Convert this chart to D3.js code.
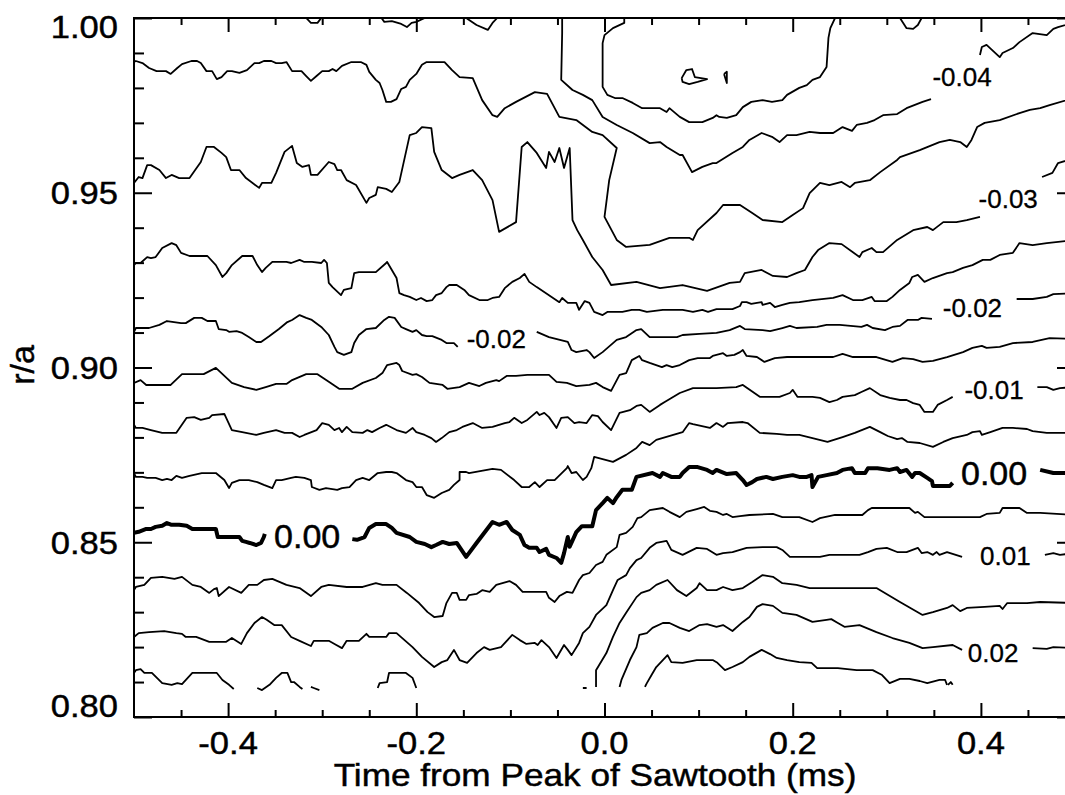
<!DOCTYPE html>
<html>
<head>
<meta charset="utf-8">
<script src="https://cdn.jsdelivr.net/npm/d3@7/dist/d3.min.js"></script>
<style>
  html, body { margin: 0; padding: 0; background: #fff; }
  svg { display: block; }
  text { font-family: "Liberation Sans", Arial, Helvetica, sans-serif; fill: #000; }
  .heavy { stroke: #000; stroke-width: 0.45px; }
</style>
</head>
<body>
<svg id="chart" width="1065" height="795"></svg>
<script>
// ---- axis ticks and labels ----
const tickMajorT = [-0.4, -0.2, 0.0, 0.2, 0.4];
const tickLabelT = ["-0.4", "-0.2", "0.0", "0.2", "0.4"];
const tickMinorT = [-0.45, -0.35, -0.3, -0.25, -0.15, -0.1, -0.05, 0.05, 0.1, 0.15, 0.25, 0.3, 0.35, 0.45];
const tickMajorR = [0.80, 0.85, 0.90, 0.95, 1.00];
const tickLabelR = ["0.80", "0.85", "0.90", "0.95", "1.00"];
const tickMinorR = [0.81, 0.82, 0.83, 0.84, 0.86, 0.87, 0.88, 0.89, 0.91, 0.92, 0.93, 0.94, 0.96, 0.97, 0.98, 0.99];

// ---- contour lines: [time (ms), r/a]; null marks a break in the line ----
const lvlM050a = [[0.082,0.9828],[0.087,0.9851],[0.093,0.9854],[0.096,0.9831],[0.109,0.9825],[0.099,0.9817],[0.090,0.9811],[0.083,0.9817],[0.082,0.9828]];
const lvlM050b = [[0.127,0.9840],[0.130,0.9846],[0.130,0.9814],[0.127,0.9840]];

const lvlM045 = [[0.021,1.0],[0.021,0.9986],[0.009,0.9971],[0.000,0.9951],[-0.002,0.9928],[-0.002,0.9803],[0.003,0.9780],[0.011,0.9771],[0.019,0.9771],[0.030,0.9757],[0.040,0.9742],[0.059,0.9742],[0.066,0.9731],[0.069,0.9742],[0.080,0.9717],[0.090,0.9702],[0.104,0.9702],[0.115,0.9714],[0.119,0.9722],[0.122,0.9717],[0.130,0.9714],[0.140,0.9722],[0.147,0.9745],[0.156,0.9760],[0.168,0.9765],[0.178,0.9760],[0.189,0.9765],[0.194,0.9780],[0.207,0.9800],[0.215,0.9808],[0.221,0.9823],[0.229,0.9831],[0.236,0.9860],[0.238,0.9943],[0.240,0.9971],[0.245,1.0]];

const lvlM040 = [[-0.045,1.0],[-0.045,0.9957],[-0.046,0.9823],[-0.034,0.9794],[-0.023,0.9780],[-0.013,0.9765],[-0.002,0.9717],[0.013,0.9694],[0.030,0.9671],[0.048,0.9642],[0.059,0.9645],[0.066,0.9631],[0.080,0.9608],[0.083,0.9608],[0.093,0.9559],[0.104,0.9574],[0.115,0.9585],[0.119,0.9585],[0.136,0.9614],[0.147,0.9631],[0.154,0.9651],[0.167,0.9671],[0.178,0.9660],[0.186,0.9645],[0.194,0.9665],[0.204,0.9665],[0.218,0.9674],[0.229,0.9671],[0.243,0.9671],[0.253,0.9688],[0.263,0.9677],[0.268,0.9694],[0.279,0.9700],[0.287,0.9708],[0.296,0.9722],[0.311,0.9725],[0.321,0.9742],[0.338,0.9760],[0.347,0.9768],null,[0.399,0.9894],[0.401,0.9917],[0.406,0.9923],[0.420,0.9888],[0.423,0.9900],[0.434,0.9914],[0.441,0.9931],[0.455,0.9957],[0.470,0.9951],[0.477,0.9969],[0.482,0.9974],[0.500,0.9988]];

const lvlM040Top = [[-0.317,1.0],[-0.312,0.9986],[-0.305,0.9986],[-0.301,1.0],null,[-0.237,1.0],[-0.234,0.9989],[-0.226,0.9991],[-0.216,0.9983],[-0.210,0.9974],[-0.205,0.9986],[-0.200,0.9989],[-0.191,1.0],null,[-0.147,1.0],[-0.136,0.9980],[-0.124,0.9966],[-0.119,0.9986],[-0.114,1.0],null,[0.314,1.0],[0.321,0.9971],[0.328,0.9969],[0.333,0.9980],[0.337,1.0]];

const lvlM035 = [[-0.500,0.9874],[-0.498,0.9877],[-0.491,0.9871],[-0.484,0.9857],[-0.476,0.9848],[-0.466,0.9848],[-0.461,0.9840],[-0.454,0.9857],[-0.449,0.9868],[-0.439,0.9877],[-0.433,0.9877],[-0.429,0.9871],[-0.423,0.9848],[-0.417,0.9848],[-0.412,0.9825],[-0.407,0.9831],[-0.401,0.9848],[-0.396,0.9848],[-0.388,0.9843],[-0.380,0.9851],[-0.372,0.9871],[-0.367,0.9871],[-0.362,0.9877],[-0.354,0.9877],[-0.349,0.9871],[-0.343,0.9871],[-0.338,0.9874],[-0.332,0.9848],[-0.322,0.9848],[-0.317,0.9834],[-0.312,0.9820],[-0.306,0.9834],[-0.300,0.9848],[-0.293,0.9848],[-0.289,0.9854],[-0.285,0.9848],[-0.279,0.9863],[-0.269,0.9874],[-0.259,0.9874],[-0.253,0.9866],[-0.250,0.9846],[-0.243,0.9823],[-0.239,0.9814],[-0.236,0.9794],[-0.232,0.9760],[-0.227,0.9760],[-0.221,0.9768],[-0.216,0.9797],[-0.211,0.9803],[-0.207,0.9823],[-0.200,0.9840],[-0.194,0.9866],[-0.189,0.9874],[-0.170,0.9874],[-0.162,0.9851],[-0.154,0.9831],[-0.140,0.9828],[-0.130,0.9765],[-0.119,0.9722],[-0.114,0.9717],[-0.106,0.9742],[-0.094,0.9760],[-0.074,0.9788],[-0.061,0.9783],[-0.048,0.9717],[-0.030,0.9708],[-0.013,0.9674],[-0.002,0.9665],[0.013,0.9628],[0.005,0.9536],[0.000,0.9431],[0.013,0.9365],[0.023,0.9345],[0.048,0.9351],[0.069,0.9371],[0.090,0.9371],[0.094,0.9365],[0.099,0.9393],[0.119,0.9442],[0.126,0.9465],[0.144,0.9465],[0.157,0.9442],[0.168,0.9422],[0.189,0.9416],[0.200,0.9436],[0.211,0.9456],[0.218,0.9499],[0.229,0.9528],[0.239,0.9522],[0.252,0.9531],[0.261,0.9516],[0.266,0.9528],[0.282,0.9536],[0.293,0.9559],[0.311,0.9594],[0.314,0.9602],[0.335,0.9622],[0.356,0.9645],[0.367,0.9651],[0.378,0.9645],[0.385,0.9631],[0.390,0.9651],[0.396,0.9688],[0.404,0.9700],[0.420,0.9708],[0.441,0.9728],[0.452,0.9737],[0.463,0.9742],[0.473,0.9751],[0.500,0.9772]];

const lvlM030 = [[-0.500,0.9528],[-0.495,0.9545],[-0.491,0.9542],[-0.486,0.9579],[-0.482,0.9579],[-0.473,0.9565],[-0.466,0.9542],[-0.460,0.9551],[-0.452,0.9542],[-0.441,0.9542],[-0.429,0.9588],[-0.423,0.9631],[-0.415,0.9631],[-0.407,0.9614],[-0.402,0.9602],[-0.397,0.9565],[-0.388,0.9565],[-0.381,0.9542],[-0.367,0.9514],[-0.364,0.9528],[-0.354,0.9528],[-0.349,0.9557],[-0.340,0.9617],[-0.332,0.9634],[-0.327,0.9585],[-0.321,0.9574],[-0.314,0.9579],[-0.312,0.9551],[-0.305,0.9551],[-0.293,0.9588],[-0.287,0.9582],[-0.284,0.9565],[-0.280,0.9565],[-0.274,0.9536],[-0.264,0.9522],[-0.253,0.9471],[-0.250,0.9485],[-0.243,0.9494],[-0.241,0.9516],[-0.232,0.9511],[-0.226,0.9502],[-0.218,0.9531],[-0.207,0.9665],[-0.200,0.9671],[-0.194,0.9688],[-0.184,0.9685],[-0.181,0.9617],[-0.173,0.9565],[-0.162,0.9542],[-0.154,0.9551],[-0.140,0.9565],[-0.130,0.9536],[-0.119,0.9479],[-0.112,0.9388],[-0.094,0.9416],[-0.088,0.9631],[-0.082,0.9645],[-0.072,0.9614],[-0.062,0.9571],[-0.059,0.9617],[-0.053,0.9588],[-0.048,0.9628],[-0.043,0.9571],[-0.037,0.9628],[-0.034,0.9422],[-0.029,0.9393],[-0.023,0.9365],[-0.013,0.9316],[-0.002,0.9279],[0.007,0.9236],[0.034,0.9245],[0.059,0.9227],[0.083,0.9236],[0.109,0.9219],[0.133,0.9242],[0.144,0.9245],[0.149,0.9270],[0.167,0.9279],[0.179,0.9262],[0.194,0.9259],[0.204,0.9270],[0.213,0.9279],[0.221,0.9316],[0.227,0.9336],[0.239,0.9356],[0.252,0.9353],[0.264,0.9330],[0.271,0.9316],[0.274,0.9330],[0.284,0.9342],[0.289,0.9330],[0.296,0.9330],[0.311,0.9365],[0.328,0.9393],[0.343,0.9402],[0.349,0.9393],[0.360,0.9416],[0.374,0.9416],[0.385,0.9422],[0.399,0.9431],null,[0.465,0.9545],[0.476,0.9557],[0.482,0.9585],[0.500,0.9599]];

const lvlM025 = [[-0.500,0.9293],[-0.498,0.9299],[-0.493,0.9299],[-0.486,0.9316],[-0.482,0.9313],[-0.477,0.9316],[-0.470,0.9342],[-0.460,0.9356],[-0.455,0.9350],[-0.450,0.9328],[-0.441,0.9319],[-0.422,0.9319],[-0.413,0.9293],[-0.406,0.9259],[-0.402,0.9270],[-0.396,0.9293],[-0.385,0.9319],[-0.374,0.9319],[-0.369,0.9293],[-0.364,0.9273],[-0.360,0.9285],[-0.353,0.9302],[-0.338,0.9302],[-0.333,0.9299],[-0.324,0.9308],[-0.319,0.9302],[-0.311,0.9302],[-0.301,0.9299],[-0.298,0.9308],[-0.295,0.9299],[-0.293,0.9242],[-0.289,0.9230],[-0.280,0.9207],[-0.277,0.9222],[-0.269,0.9227],[-0.266,0.9270],[-0.261,0.9273],[-0.243,0.9273],[-0.232,0.9299],[-0.231,0.9302],[-0.226,0.9279],[-0.221,0.9256],[-0.218,0.9213],[-0.213,0.9207],[-0.207,0.9202],[-0.200,0.9193],[-0.195,0.9199],[-0.189,0.9190],[-0.183,0.9193],[-0.179,0.9207],[-0.173,0.9213],[-0.168,0.9230],[-0.165,0.9236],[-0.157,0.9236],[-0.149,0.9222],[-0.144,0.9207],[-0.133,0.9193],[-0.124,0.9193],[-0.119,0.9199],[-0.112,0.9202],[-0.106,0.9227],[-0.098,0.9245],[-0.090,0.9256],[-0.085,0.9268],[-0.080,0.9245],[-0.072,0.9230],[-0.059,0.9207],[-0.048,0.9187],[-0.045,0.9199],[-0.039,0.9185],[-0.030,0.9185],[-0.027,0.9165],[-0.021,0.9190],[-0.016,0.9185],[-0.011,0.9159],[-0.002,0.9150],[0.003,0.9159],[0.019,0.9159],[0.029,0.9165],[0.037,0.9165],[0.045,0.9159],[0.062,0.9165],[0.083,0.9165],[0.094,0.9159],[0.104,0.9165],[0.110,0.9159],[0.119,0.9167],[0.136,0.9167],[0.144,0.9176],[0.146,0.9187],[0.151,0.9187],[0.156,0.9182],[0.162,0.9185],[0.167,0.9187],[0.168,0.9179],[0.176,0.9185],[0.181,0.9173],[0.189,0.9179],[0.197,0.9185],[0.207,0.9187],[0.221,0.9193],[0.243,0.9199],[0.253,0.9207],[0.264,0.9193],[0.274,0.9193],[0.284,0.9202],[0.287,0.9190],[0.300,0.9190],[0.306,0.9202],[0.314,0.9222],[0.324,0.9242],[0.327,0.9259],[0.333,0.9265],[0.340,0.9245],[0.349,0.9256],[0.364,0.9270],[0.370,0.9273],[0.381,0.9285],[0.391,0.9293],[0.402,0.9308],[0.410,0.9308],[0.420,0.9322],[0.434,0.9328],[0.441,0.9356],[0.455,0.9350],[0.470,0.9356],[0.500,0.9365]];

const lvlM020 = [[-0.500,0.9102],[-0.498,0.9113],[-0.484,0.9113],[-0.473,0.9122],[-0.465,0.9133],[-0.450,0.9127],[-0.445,0.9127],[-0.436,0.9142],[-0.428,0.9142],[-0.422,0.9133],[-0.413,0.9133],[-0.410,0.9110],[-0.402,0.9107],[-0.399,0.9102],[-0.391,0.9104],[-0.385,0.9099],[-0.378,0.9087],[-0.370,0.9073],[-0.365,0.9073],[-0.356,0.9090],[-0.346,0.9110],[-0.337,0.9130],[-0.332,0.9136],[-0.324,0.9150],[-0.317,0.9142],[-0.311,0.9136],[-0.301,0.9116],[-0.293,0.9093],[-0.287,0.9059],[-0.284,0.9044],[-0.277,0.9036],[-0.269,0.9044],[-0.266,0.9070],[-0.261,0.9093],[-0.253,0.9110],[-0.243,0.9113],[-0.234,0.9136],[-0.229,0.9145],[-0.223,0.9142],[-0.216,0.9116],[-0.211,0.9110],[-0.204,0.9102],[-0.200,0.9107],[-0.194,0.9093],[-0.189,0.9090],[-0.183,0.9090],[-0.173,0.9079],[-0.168,0.9070],[-0.160,0.9070],[-0.156,0.9059],null,[-0.072,0.9102],[-0.059,0.9087],[-0.039,0.9073],[-0.035,0.9050],[-0.030,0.9044],[-0.019,0.9050],[-0.016,0.9044],[-0.011,0.9027],[-0.002,0.9044],[0.013,0.9079],[0.023,0.9087],[0.034,0.9107],[0.039,0.9110],[0.048,0.9087],[0.077,0.9087],[0.083,0.9093],[0.101,0.9096],[0.119,0.9099],[0.133,0.9107],[0.144,0.9119],[0.149,0.9110],[0.168,0.9107],[0.176,0.9104],[0.189,0.9113],[0.197,0.9119],[0.204,0.9113],[0.226,0.9116],[0.236,0.9122],[0.250,0.9122],[0.273,0.9116],[0.279,0.9122],[0.285,0.9113],[0.298,0.9107],[0.306,0.9116],[0.314,0.9119],[0.322,0.9136],[0.333,0.9136],[0.337,0.9142],[0.348,0.9139],null,[0.438,0.9196],[0.455,0.9196],[0.470,0.9202],[0.477,0.9210],[0.500,0.9213]];

const lvlM015 = [[-0.500,0.8956],[-0.493,0.8964],[-0.487,0.8950],[-0.461,0.8950],[-0.449,0.8981],[-0.426,0.8981],[-0.413,0.8999],[-0.396,0.8956],[-0.383,0.8944],[-0.370,0.8936],[-0.360,0.8944],[-0.349,0.8953],[-0.338,0.8953],[-0.332,0.8964],[-0.317,0.8981],[-0.305,0.8981],[-0.293,0.8959],[-0.282,0.8939],[-0.268,0.8939],[-0.257,0.8956],[-0.243,0.8970],[-0.236,0.8984],[-0.231,0.9007],[-0.221,0.9013],[-0.218,0.9007],[-0.215,0.8990],[-0.204,0.8979],[-0.200,0.8981],[-0.194,0.8973],[-0.186,0.8956],[-0.172,0.8950],[-0.167,0.8939],[-0.154,0.8944],[-0.144,0.8956],[-0.133,0.8947],[-0.126,0.8956],[-0.115,0.8964],[-0.112,0.8961],[-0.104,0.8976],[-0.094,0.8976],[-0.082,0.8979],[-0.059,0.8979],[-0.051,0.8959],[-0.040,0.8956],[-0.030,0.8947],[-0.016,0.8950],[-0.009,0.8956],[-0.002,0.8944],[0.007,0.8933],[0.016,0.8979],[0.023,0.8984],[0.029,0.9021],[0.037,0.9033],[0.040,0.9021],[0.048,0.9013],[0.061,0.9001],[0.066,0.9007],[0.072,0.9001],[0.080,0.9007],[0.090,0.9021],[0.099,0.9027],[0.112,0.9027],[0.115,0.9033],[0.126,0.9041],[0.130,0.9033],[0.138,0.9036],[0.144,0.9044],[0.147,0.9050],[0.151,0.9033],[0.162,0.9030],[0.170,0.9016],[0.181,0.9027],[0.194,0.9030],[0.207,0.9030],[0.243,0.9030],[0.253,0.9039],[0.264,0.9030],[0.289,0.9030],[0.306,0.9016],[0.317,0.9027],[0.328,0.9024],[0.338,0.9016],[0.349,0.9019],[0.364,0.9030],[0.381,0.9044],[0.391,0.9056],[0.401,0.9062],[0.406,0.9056],[0.420,0.9059],[0.434,0.9070],[0.455,0.9073],[0.473,0.9084],[0.500,0.9082]];

const lvlM010 = [[-0.500,0.8836],[-0.498,0.8827],[-0.491,0.8827],[-0.482,0.8821],[-0.470,0.8813],[-0.455,0.8813],[-0.444,0.8856],[-0.436,0.8858],[-0.429,0.8850],[-0.420,0.8856],[-0.417,0.8864],[-0.404,0.8867],[-0.396,0.8821],[-0.385,0.8815],[-0.370,0.8807],[-0.362,0.8813],[-0.349,0.8821],[-0.340,0.8813],[-0.332,0.8813],[-0.324,0.8801],[-0.319,0.8807],[-0.306,0.8821],[-0.300,0.8841],[-0.293,0.8836],[-0.287,0.8821],[-0.282,0.8827],[-0.279,0.8815],[-0.274,0.8830],[-0.268,0.8815],[-0.257,0.8813],[-0.252,0.8821],[-0.247,0.8815],[-0.239,0.8827],[-0.232,0.8836],[-0.221,0.8821],[-0.211,0.8813],[-0.204,0.8827],[-0.200,0.8815],[-0.191,0.8807],[-0.184,0.8798],[-0.179,0.8787],[-0.173,0.8798],[-0.165,0.8815],[-0.157,0.8821],[-0.151,0.8830],[-0.140,0.8841],[-0.130,0.8827],[-0.119,0.8830],[-0.106,0.8841],[-0.101,0.8844],[-0.096,0.8856],[-0.088,0.8841],[-0.082,0.8850],[-0.072,0.8873],[-0.069,0.8864],[-0.064,0.8870],[-0.059,0.8858],[-0.051,0.8827],[-0.046,0.8856],[-0.039,0.8858],[-0.032,0.8841],[-0.027,0.8844],[-0.019,0.8841],[-0.013,0.8864],[-0.007,0.8861],[-0.002,0.8844],[0.007,0.8821],[0.016,0.8870],[0.027,0.8878],[0.034,0.8890],[0.039,0.8893],[0.048,0.8873],[0.059,0.8893],[0.064,0.8901],[0.080,0.8927],[0.094,0.8941],[0.119,0.8941],[0.140,0.8944],[0.147,0.8950],[0.165,0.8916],[0.186,0.8916],[0.197,0.8927],[0.200,0.8936],[0.205,0.8916],[0.221,0.8916],[0.229,0.8913],[0.239,0.8901],[0.247,0.8907],[0.253,0.8916],[0.266,0.8921],[0.273,0.8930],[0.282,0.8941],[0.293,0.8921],[0.303,0.8913],[0.314,0.8907],[0.321,0.8907],[0.328,0.8898],[0.335,0.8893],[0.340,0.8873],[0.349,0.8873],[0.354,0.8893],[0.364,0.8907],[0.370,0.8916],null,[0.460,0.8944],[0.470,0.8944],[0.477,0.8936],[0.484,0.8941],[0.500,0.8944]];

const lvlM005 = [[-0.500,0.8698],[-0.498,0.8687],[-0.491,0.8687],[-0.486,0.8684],[-0.477,0.8684],[-0.470,0.8678],[-0.465,0.8681],[-0.460,0.8678],[-0.455,0.8690],[-0.449,0.8684],[-0.441,0.8690],[-0.428,0.8698],[-0.413,0.8698],[-0.404,0.8678],[-0.399,0.8655],[-0.396,0.8670],[-0.388,0.8678],[-0.378,0.8678],[-0.369,0.8672],[-0.362,0.8664],[-0.353,0.8655],[-0.349,0.8678],[-0.343,0.8678],[-0.333,0.8684],[-0.328,0.8687],[-0.319,0.8684],[-0.312,0.8678],[-0.311,0.8658],[-0.303,0.8650],[-0.296,0.8655],[-0.284,0.8650],[-0.279,0.8655],[-0.271,0.8658],[-0.264,0.8678],[-0.257,0.8684],[-0.250,0.8678],[-0.241,0.8698],[-0.232,0.8701],[-0.226,0.8701],[-0.221,0.8698],[-0.211,0.8678],[-0.204,0.8672],[-0.200,0.8658],[-0.194,0.8658],[-0.189,0.8635],[-0.181,0.8627],[-0.173,0.8641],[-0.165,0.8650],[-0.160,0.8664],[-0.154,0.8678],[-0.154,0.8701],[-0.147,0.8701],[-0.144,0.8698],[-0.119,0.8710],[-0.110,0.8707],[-0.096,0.8678],[-0.088,0.8658],[-0.080,0.8658],[-0.074,0.8672],[-0.069,0.8658],[-0.061,0.8678],[-0.053,0.8678],[-0.040,0.8712],[-0.039,0.8718],[-0.035,0.8698],[-0.030,0.8701],[-0.023,0.8678],[-0.019,0.8687],[-0.014,0.8712],[-0.011,0.8744],[-0.002,0.8738],[0.009,0.8730],[0.023,0.8750],[0.034,0.8770],[0.040,0.8787],[0.048,0.8778],[0.055,0.8793],[0.083,0.8815],[0.090,0.8841],[0.094,0.8838],[0.112,0.8827],[0.119,0.8841],[0.126,0.8830],[0.131,0.8841],[0.147,0.8844],[0.152,0.8841],[0.165,0.8813],[0.183,0.8810],[0.194,0.8807],[0.207,0.8807],[0.221,0.8798],[0.237,0.8787],[0.253,0.8801],[0.266,0.8813],[0.282,0.8830],[0.293,0.8815],[0.301,0.8804],[0.311,0.8795],[0.316,0.8798],[0.322,0.8787],[0.335,0.8784],[0.349,0.8773],[0.360,0.8787],[0.370,0.8798],[0.385,0.8807],[0.391,0.8815],[0.399,0.8818],[0.401,0.8807],[0.410,0.8815],[0.423,0.8827],[0.434,0.8827],[0.449,0.8824],[0.455,0.8818],[0.470,0.8813],[0.500,0.8813]];

const lvl000 = [[-0.500,0.8527],[-0.495,0.8530],[-0.487,0.8538],[-0.482,0.8538],[-0.477,0.8544],[-0.470,0.8547],[-0.465,0.8555],[-0.460,0.8550],[-0.452,0.8550],[-0.444,0.8547],[-0.438,0.8538],[-0.413,0.8538],[-0.411,0.8515],[-0.388,0.8515],[-0.385,0.8504],[-0.381,0.8501],[-0.377,0.8498],[-0.370,0.8492],[-0.365,0.8498],[-0.362,0.8515],[-0.361,0.8524],null,[-0.268,0.8509],[-0.263,0.8507],[-0.255,0.8515],[-0.250,0.8541],[-0.243,0.8552],[-0.232,0.8552],[-0.226,0.8541],[-0.221,0.8527],[-0.207,0.8515],[-0.200,0.8501],[-0.191,0.8495],[-0.184,0.8486],[-0.179,0.8492],[-0.172,0.8501],[-0.165,0.8495],[-0.157,0.8498],[-0.147,0.8458],[-0.136,0.8498],[-0.119,0.8558],[-0.112,0.8550],[-0.104,0.8558],[-0.098,0.8535],[-0.090,0.8521],[-0.085,0.8492],[-0.080,0.8484],[-0.072,0.8484],[-0.069,0.8472],[-0.062,0.8481],[-0.059,0.8464],[-0.051,0.8455],[-0.046,0.8441],[-0.043,0.8469],[-0.039,0.8515],[-0.037,0.8487],[-0.030,0.8529],[-0.024,0.8546],[-0.013,0.8546],[-0.009,0.8592],[-0.002,0.8612],[0.003,0.8627],[0.009,0.8612],[0.013,0.8629],[0.019,0.8650],[0.029,0.8650],[0.034,0.8687],[0.051,0.8698],[0.059,0.8687],[0.062,0.8698],[0.071,0.8687],[0.080,0.8687],[0.083,0.8698],[0.090,0.8715],[0.099,0.8715],[0.109,0.8707],[0.115,0.8698],[0.119,0.8707],[0.130,0.8695],[0.140,0.8698],[0.147,0.8678],[0.151,0.8664],[0.157,0.8672],[0.162,0.8681],[0.172,0.8687],[0.179,0.8681],[0.189,0.8687],[0.200,0.8692],[0.207,0.8687],[0.215,0.8687],[0.220,0.8692],[0.221,0.8658],[0.227,0.8687],[0.236,0.8692],[0.247,0.8698],[0.253,0.8707],[0.263,0.8712],[0.266,0.8698],[0.277,0.8698],[0.280,0.8712],[0.290,0.8712],[0.303,0.8707],[0.311,0.8712],[0.314,0.8701],[0.321,0.8707],[0.327,0.8687],[0.330,0.8698],[0.335,0.8698],[0.343,0.8684],[0.348,0.8675],[0.349,0.8661],[0.367,0.8661],[0.370,0.8670],null,[0.463,0.8707],[0.477,0.8698],[0.500,0.8698]];

const lvlP005 = [[-0.500,0.8363],[-0.498,0.8372],[-0.489,0.8378],[-0.482,0.8398],[-0.470,0.8401],[-0.457,0.8395],[-0.449,0.8401],[-0.438,0.8378],[-0.429,0.8372],[-0.420,0.8355],[-0.415,0.8366],[-0.412,0.8369],[-0.410,0.8346],[-0.399,0.8372],[-0.386,0.8355],[-0.378,0.8378],[-0.369,0.8378],[-0.362,0.8392],[-0.353,0.8395],[-0.338,0.8378],[-0.324,0.8369],[-0.312,0.8346],[-0.301,0.8372],[-0.293,0.8378],[-0.274,0.8372],[-0.257,0.8372],[-0.243,0.8383],[-0.236,0.8378],[-0.221,0.8378],[-0.210,0.8355],[-0.197,0.8326],[-0.188,0.8300],[-0.181,0.8286],[-0.172,0.8289],[-0.168,0.8326],[-0.162,0.8355],[-0.157,0.8355],[-0.154,0.8335],[-0.147,0.8335],[-0.144,0.8349],[-0.136,0.8352],[-0.130,0.8363],[-0.122,0.8358],[-0.115,0.8378],[-0.101,0.8389],[-0.094,0.8378],[-0.087,0.8358],[-0.062,0.8358],[-0.059,0.8341],[-0.053,0.8329],[-0.048,0.8346],[-0.040,0.8358],[-0.034,0.8355],[-0.027,0.8392],[-0.023,0.8406],[-0.016,0.8412],[-0.009,0.8435],[-0.002,0.8444],[0.002,0.8464],[0.013,0.8486],[0.016,0.8521],[0.023,0.8527],[0.030,0.8544],[0.035,0.8569],[0.039,0.8572],[0.048,0.8592],[0.062,0.8598],[0.069,0.8587],[0.080,0.8572],[0.087,0.8587],[0.098,0.8595],[0.106,0.8601],[0.112,0.8590],[0.119,0.8587],[0.126,0.8578],[0.130,0.8581],[0.136,0.8572],[0.144,0.8575],[0.154,0.8578],[0.179,0.8581],[0.189,0.8572],[0.207,0.8572],[0.221,0.8558],[0.229,0.8569],[0.245,0.8578],[0.274,0.8578],[0.280,0.8592],[0.284,0.8598],[0.324,0.8598],[0.330,0.8584],[0.333,0.8587],[0.340,0.8572],[0.399,0.8572],[0.406,0.8581],[0.420,0.8584],[0.423,0.8598],[0.441,0.8598],[0.449,0.8584],[0.463,0.8584],[0.500,0.8578]];

const lvlP010 = [[-0.500,0.8229],[-0.495,0.8240],[-0.484,0.8243],[-0.468,0.8246],[-0.455,0.8240],[-0.449,0.8238],[-0.445,0.8229],[-0.434,0.8229],[-0.420,0.8215],[-0.402,0.8215],[-0.396,0.8226],[-0.386,0.8209],[-0.380,0.8240],[-0.372,0.8269],[-0.364,0.8286],[-0.359,0.8278],[-0.351,0.8263],[-0.343,0.8263],[-0.333,0.8229],[-0.324,0.8218],[-0.312,0.8203],[-0.309,0.8218],[-0.293,0.8218],[-0.285,0.8206],[-0.279,0.8197],[-0.274,0.8218],[-0.261,0.8218],[-0.253,0.8238],[-0.250,0.8229],[-0.232,0.8229],[-0.229,0.8240],[-0.221,0.8240],[-0.204,0.8200],[-0.194,0.8172],[-0.181,0.8143],[-0.173,0.8157],[-0.167,0.8163],[-0.160,0.8192],[-0.154,0.8163],[-0.146,0.8155],[-0.136,0.8183],[-0.128,0.8200],[-0.122,0.8192],[-0.110,0.8200],[-0.098,0.8235],[-0.090,0.8220],[-0.083,0.8209],[-0.074,0.8212],[-0.071,0.8206],[-0.067,0.8220],[-0.059,0.8200],[-0.051,0.8169],[-0.043,0.8206],[-0.039,0.8192],[-0.035,0.8177],[-0.027,0.8212],[-0.023,0.8240],[-0.016,0.8258],[-0.009,0.8292],[0.002,0.8320],[0.009,0.8363],[0.014,0.8392],[0.023,0.8406],[0.027,0.8426],[0.034,0.8449],[0.039,0.8455],[0.048,0.8484],[0.055,0.8498],[0.066,0.8504],[0.071,0.8478],[0.083,0.8464],[0.098,0.8484],[0.109,0.8481],[0.119,0.8464],[0.126,0.8469],[0.136,0.8472],[0.151,0.8484],[0.168,0.8486],[0.183,0.8486],[0.189,0.8478],[0.197,0.8458],[0.229,0.8458],[0.239,0.8464],[0.271,0.8464],[0.280,0.8472],[0.289,0.8481],[0.300,0.8484],[0.311,0.8472],[0.321,0.8472],[0.333,0.8484],[0.337,0.8469],[0.343,0.8472],[0.349,0.8464],[0.353,0.8472],[0.356,0.8464],[0.364,0.8472],[0.380,0.8458],null,[0.468,0.8464],[0.477,0.8469],[0.484,0.8464],[0.500,0.8469]];

const lvlP015 = [[-0.500,0.8126],[-0.498,0.8134],[-0.493,0.8137],[-0.489,0.8126],[-0.481,0.8126],[-0.470,0.8097],[-0.460,0.8092],[-0.454,0.8097],[-0.449,0.8094],[-0.438,0.8126],[-0.412,0.8126],[-0.406,0.8106],[-0.399,0.8092],[-0.394,0.8080],null,[-0.369,0.8083],[-0.364,0.8077],[-0.356,0.8092],[-0.349,0.8112],[-0.343,0.8126],[-0.337,0.8126],[-0.333,0.8100],[-0.330,0.8100],[-0.324,0.8086],[-0.321,0.8080],null,[-0.312,0.8086],[-0.309,0.8083],[-0.303,0.8077],null,[-0.241,0.8083],[-0.239,0.8097],[-0.231,0.8100],[-0.229,0.8126],[-0.211,0.8126],[-0.204,0.8112],[-0.200,0.8083],null,[-0.023,0.8083],[-0.019,0.8083],null,[-0.009,0.8086],[-0.009,0.8134],[0.002,0.8183],[0.009,0.8229],[0.016,0.8269],[0.023,0.8298],[0.034,0.8343],[0.039,0.8355],[0.048,0.8363],[0.055,0.8378],[0.067,0.8392],[0.077,0.8363],[0.087,0.8346],[0.098,0.8369],[0.101,0.8383],[0.109,0.8363],[0.119,0.8363],[0.126,0.8372],[0.136,0.8363],[0.147,0.8369],[0.157,0.8386],[0.168,0.8406],[0.179,0.8401],[0.189,0.8383],[0.204,0.8378],[0.218,0.8369],[0.289,0.8369],[0.314,0.8329],[0.338,0.8292],[0.349,0.8300],[0.364,0.8312],[0.370,0.8320],[0.378,0.8303],[0.385,0.8312],[0.404,0.8315],[0.420,0.8318],[0.423,0.8309],[0.428,0.8326],[0.449,0.8326],[0.463,0.8329],[0.500,0.8326]];

const lvlP020 = [[0.016,0.8086],[0.018,0.8106],[0.027,0.8163],[0.034,0.8200],[0.037,0.8235],[0.045,0.8240],[0.051,0.8255],[0.062,0.8269],[0.069,0.8269],[0.080,0.8255],[0.090,0.8246],[0.101,0.8263],[0.109,0.8266],[0.119,0.8258],[0.126,0.8263],[0.136,0.8246],[0.147,0.8272],[0.154,0.8286],[0.162,0.8315],[0.168,0.8323],[0.179,0.8318],[0.189,0.8298],[0.204,0.8292],[0.221,0.8272],[0.236,0.8278],[0.241,0.8280],[0.248,0.8269],[0.255,0.8258],[0.271,0.8263],[0.289,0.8243],[0.306,0.8226],[0.324,0.8212],[0.338,0.8197],[0.349,0.8200],[0.370,0.8206],[0.380,0.8192],null,[0.455,0.8197],[0.470,0.8195],[0.477,0.8200],[0.500,0.8197]];

const lvlP025 = [[0.043,0.8086],[0.045,0.8097],[0.050,0.8120],[0.055,0.8143],[0.067,0.8177],[0.071,0.8157],[0.083,0.8155],[0.098,0.8163],[0.115,0.8163],[0.120,0.8155],[0.128,0.8134],[0.136,0.8143],[0.147,0.8157],[0.154,0.8172],[0.167,0.8192],[0.176,0.8180],[0.183,0.8169],[0.194,0.8163],[0.207,0.8157],[0.220,0.8155],[0.226,0.8140],[0.248,0.8140],[0.268,0.8134],[0.285,0.8134],[0.295,0.8120],[0.303,0.8097],[0.314,0.8109],[0.324,0.8109],[0.335,0.8103],[0.343,0.8097],[0.356,0.8106],[0.362,0.8106],[0.364,0.8092],null,[0.365,0.8092],[0.368,0.8100],[0.370,0.8092]];

const contourSeries = [lvlM050a, lvlM050b, lvlM045, lvlM040, lvlM040Top, lvlM035, lvlM030, lvlM025, lvlM020, lvlM015, lvlM010, lvlM005, lvl000, lvlP005, lvlP010, lvlP015, lvlP020, lvlP025];
const contourLevel  = [-0.05, -0.05, -0.045, -0.04, -0.04, -0.035, -0.03, -0.025, -0.02, -0.015, -0.01, -0.005, 0.0, 0.005, 0.01, 0.015, 0.02, 0.025];

// ---- inline contour labels: level and anchor point [time, r/a] ----
const labelLevel = [-0.04, -0.03, -0.02, -0.02, -0.01, 0.0, 0.0, 0.01, 0.02];
const labelT     = [0.380, 0.429, -0.115, 0.391, 0.414, -0.316, 0.414, 0.426, 0.413];
const labelR     = [0.9833, 0.9482, 0.9083, 0.9170, 0.8936, 0.8519, 0.8700, 0.8461, 0.8185];

// ---- layout ----
const svg = d3.select("#chart");
svg.append("rect").attr("width", 1065).attr("height", 795).attr("fill", "#fff");

const x = d3.scaleLinear().domain([-0.5, 0.5]).range([134, 1075]);
const y = d3.scaleLinear().domain([0.8, 1.0]).range([717, 18]);
const [x0, x1] = x.range();
const [y0, y1] = y.range();

svg.append("defs").append("clipPath").attr("id", "plotClip")
  .append("rect").attr("x", x0).attr("y", y1).attr("width", x1 - x0).attr("height", y0 - y1);

// contour lines
const line = d3.line()
  .defined(d => d !== null)
  .x(d => x(d[0]))
  .y(d => y(d[1]));

const plot = svg.append("g").attr("clip-path", "url(#plotClip)");
plot.selectAll("path.contour")
  .data(contourSeries)
  .join("path")
  .attr("class", "contour")
  .attr("d", line)
  .attr("fill", "none")
  .attr("stroke", "#000")
  .attr("stroke-width", (d, i) => contourLevel[i] === 0 ? 4 : 1.8)
  .attr("stroke-linejoin", "round")
  .attr("stroke-linecap", "butt");

// contour labels
const fmtLevel = v => (v < 0 ? "-" : "") + Math.abs(v).toFixed(2);
svg.append("g").selectAll("text")
  .data(labelLevel)
  .join("text")
  .attr("class", "heavy")
  .attr("x", (d, i) => x(labelT[i]))
  .attr("y", (d, i) => y(labelR[i]))
  .attr("dy", "0.36em")
  .attr("text-anchor", "middle")
  .style("font-size", d => d === 0 ? "34px" : "26px")
  .style("stroke-width", d => d === 0 ? "0.5px" : "0.3px")
  .text(d => fmtLevel(d));

// ticks (drawn inward on all four sides)
function tickAxis(axisFn, scale, values, size, transform) {
  const g = svg.append("g").attr("transform", transform)
    .call(axisFn(scale).tickValues(values).tickSize(-size).tickFormat(""));
  g.select(".domain").remove();
  g.selectAll(".tick line").attr("stroke", "#000").attr("stroke-width", 2);
}
tickAxis(d3.axisBottom, x, tickMajorT, 14, `translate(0,${y0})`);
tickAxis(d3.axisBottom, x, tickMinorT, 7, `translate(0,${y0})`);
tickAxis(d3.axisTop, x, tickMajorT, 14, `translate(0,${y1})`);
tickAxis(d3.axisTop, x, tickMinorT, 7, `translate(0,${y1})`);
tickAxis(d3.axisLeft, y, tickMajorR, 18, `translate(${x0},0)`);
tickAxis(d3.axisLeft, y, tickMinorR, 10, `translate(${x0},0)`);
tickAxis(d3.axisRight, y, tickMajorR, 18, `translate(${x1},0)`);
tickAxis(d3.axisRight, y, tickMinorR, 10, `translate(${x1},0)`);

// frame
svg.append("rect")
  .attr("x", x0).attr("y", y1)
  .attr("width", x1 - x0).attr("height", y0 - y1)
  .attr("fill", "none").attr("stroke", "#000").attr("stroke-width", 2);

// tick labels
svg.append("g").selectAll("text")
  .data(tickMajorT)
  .join("text")
  .attr("class", "heavy")
  .attr("transform", d => `translate(${x(d)},754) scale(1.08,1)`)
  .attr("text-anchor", "middle")
  .style("font-size", "32px")
  .text((d, i) => tickLabelT[i]);

svg.append("g").selectAll("text")
  .data(tickMajorR)
  .join("text")
  .attr("class", "heavy")
  .attr("transform", d => `translate(118,${Math.min(705, Math.max(26, y(d))) + 11.5}) scale(1.08,1)`)
  .attr("text-anchor", "end")
  .style("font-size", "32px")
  .text((d, i) => tickLabelR[i]);

// axis titles
svg.append("text")
  .attr("class", "heavy")
  .attr("transform", "translate(595,786) scale(1.1,1)")
  .attr("text-anchor", "middle")
  .style("font-size", "32px")
  .text("Time from Peak of Sawtooth (ms)");

svg.append("text")
  .attr("class", "heavy")
  .attr("transform", "translate(34,365) rotate(-90)")
  .attr("text-anchor", "middle")
  .style("font-size", "34px")
  .text("r/a");
</script>
</body>
</html>
